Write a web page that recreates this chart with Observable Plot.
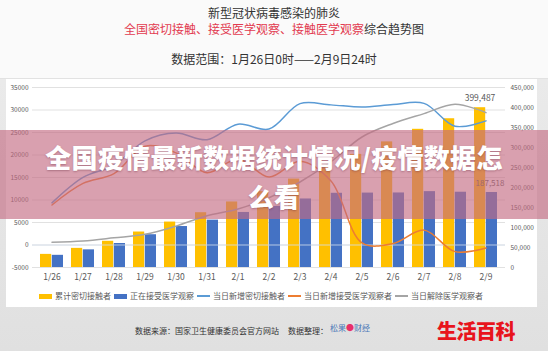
<!DOCTYPE html>
<html>
<head>
<meta charset="utf-8">
<script src="https://cdn.jsdelivr.net/npm/d3@7"></script>
<script src="https://cdn.jsdelivr.net/npm/@observablehq/plot@0.6"></script>
<style>
  html, body { margin:0; padding:0; }
  body { width:548px; height:351px; position:relative; overflow:hidden;
         background: linear-gradient(#ededed, #e0e0e0); font-family:"Noto Sans CJK SC", sans-serif; }
  .abs { position:absolute; }
  #header { left:0; top:0; width:548px; height:78px; background:#fafafa; border-bottom:1px solid #e2e2e2; }
  .hl { position:absolute; left:0; width:548px; text-align:center; font-size:12px; color:#333; line-height:14px; white-space:nowrap; }
  .red { color:#e23b50; }
  #panel { left:6px; top:79px; width:531px; height:228px; background:#fff; }
  #chart { left:0; top:79px; }
  #legend { left:39px; top:290px; display:flex; align-items:center; font-size:8px; color:#595959; white-space:nowrap; line-height:12px; }
  #legend .item { display:flex; align-items:center; margin-right:3px; }
  #legend .sw { width:13px; margin-right:3px; }
  #banner { left:0; top:130px; width:548px; height:89px; background:rgba(196,107,130,0.64); }
  .bt { left:0; width:548px; text-align:center; color:#fff; font-size:26px; font-weight:900; letter-spacing:0.3px;
        line-height:30px; height:30px; text-shadow:0 1px 2px rgba(90,30,50,0.35); white-space:nowrap; }
  #source { left:135px; top:325px; font-size:8px; color:#333; white-space:nowrap; line-height:12px; }
  #logo { left:330px; top:322px; font-size:8px; white-space:nowrap; line-height:12px; }
  #brand { left:437px; top:317px; font-size:20px; font-weight:900; color:#e8141c; white-space:nowrap; line-height:28px; letter-spacing:-0.5px; }
</style>
</head>
<body>
<div id="header" class="abs">
  <div class="hl" style="top:6px;">新型冠状病毒感染的肺炎</div>
  <div class="hl" style="top:22px;"><span class="red">全国密切接触、接受医学观察、接触医学观察</span>综合趋势图</div>
  <div class="hl" style="top:52px;">数据范围：1月26日0时——2月9日24时</div>
</div>
<div id="panel" class="abs"></div>
<div id="chart" class="abs"></div>
<div id="legend" class="abs"></div>
<div id="banner" class="abs"></div>
<div class="abs bt" style="top:142px;">全国疫情最新数据统计情况/疫情数据怎</div>
<div class="abs bt" style="top:181px;">么看</div>
<div id="source" class="abs">数据来源：国家卫生健康委员会官方网站&nbsp;&nbsp;&nbsp;&nbsp;&nbsp;数据整理：</div>
<div id="logo" class="abs"><span style="color:#4a78b8">松果</span><span style="color:#e8306a">●</span><span style="color:#4a78b8">财经</span></div>
<div id="brand" class="abs">生活百科</div>
<script>
// ---- data ----
const dates = ["1/26","1/27","1/28","1/29","1/30","1/31","2/1","2/2","2/3","2/4","2/5","2/6","2/7","2/8","2/9"];
const cumulativeContacts = [32799,47833,65537,88693,113579,136987,163844,189600,221015,252154,282813,314028,345498,371905,399487];
const underObservation   = [30453,44132,59990,81947,102427,118478,137594,152700,171329,185555,186045,186354,189660,188183,187518];
const dailyNewContacts   = [9368,15034,17704,23156,24886,23408,26857,25756,31415,31139,30659,31215,31470,26407,27582];
const dailyNewObserved   = [8897,13679,15858,21957,20480,16051,19116,15106,18629,14226,490,309,3306,-1477,-665];
const dailyReleased      = [600,914,1604,2364,4201,6509,8000,10500,14000,18500,24000,27000,29200,31300,29400];
const leftTicks  = [-5000,0,5000,10000,15000,20000,25000,30000,35000];
const rightTicks = [0,50000,100000,150000,200000,250000,300000,350000,400000,450000];
const seriesNames = ["累计密切接触者","正在接受医学观察","当日新增密切接触者","当日新增接受医学观察者","当日解除医学观察者"];
const seriesColors = ["#FFC000","#4472C4","#5B9BD5","#ED7D31","#A5A5A5"];
const seriesKinds = ["bar","bar","line","line","line"];

// right axis (bars) mapped onto left axis domain
const leftMin = leftTicks[0], leftMax = leftTicks[leftTicks.length-1];
const rightMax = rightTicks[rightTicks.length-1];
const toLeft = v => leftMin + v * (leftMax - leftMin) / rightMax;

const rows = dates.map((d, i) => ({
  date: d, cum: cumulativeContacts[i], obs: underObservation[i],
  newC: dailyNewContacts[i], newO: dailyNewObserved[i], rel: dailyReleased[i], last: i === dates.length - 1
}));
const lastRow = rows.filter(r => r.last);
const fmt = d3.format(",");

const chart = Plot.plot({
  width: 548, height: 210,
  marginTop: 8, marginBottom: 22, marginLeft: 32, marginRight: 43,
  style: { background: "transparent", fontFamily: "'Noto Sans CJK SC', sans-serif", overflow: "visible" },
  x: { type: "band", domain: dates, padding: 0, axis: null, label: null },
  y: { domain: [leftMin, leftMax], axis: null, label: null },
  marks: [
    Plot.gridY(leftTicks, { stroke: "#d9d9d9", strokeOpacity: 1, strokeWidth: 0.8 }),
    Plot.axisY(leftTicks, { anchor: "left", tickSize: 0, tickPadding: 4, tickFormat: d => String(d), fontSize: 6.5, fill: "#595959", label: null }),
    Plot.text(rightTicks, { y: toLeft, text: d => fmt(d), frameAnchor: "right", textAnchor: "start", dx: 5, fontSize: 6.5, fill: "#595959" }),
    Plot.barY(rows, { x: "date", y1: leftMin, y2: d => toLeft(d.cum), fill: seriesColors[0], insetLeft: 4, insetRight: 15.8 }),
    Plot.barY(rows, { x: "date", y1: leftMin, y2: d => toLeft(d.obs), fill: seriesColors[1], insetLeft: 15.8, insetRight: 4 }),
    Plot.ruleY([0], { stroke: "#d3deee", strokeWidth: 0.8 }),
    Plot.line(rows, { x: "date", y: "newC", stroke: seriesColors[2], strokeWidth: 1.5, curve: "catmull-rom" }),
    Plot.line(rows, { x: "date", y: "newO", stroke: seriesColors[3], strokeWidth: 1.5, curve: "catmull-rom" }),
    Plot.line(rows, { x: "date", y: "rel", stroke: seriesColors[4], strokeWidth: 1.5, curve: "catmull-rom" }),
    Plot.text(lastRow, { x: "date", y: d => toLeft(d.cum), text: d => fmt(d.cum), dx: -6, dy: -9, fontSize: 8.5, fill: "#595959" }),
    Plot.text(lastRow, { x: "date", y: d => toLeft(d.obs), text: d => fmt(d.obs), dx: 4, dy: -9, fontSize: 8, fill: "#595959" }),
    Plot.axisX({ tickSize: 0, tickPadding: 6, fontSize: 8.5, fill: "#595959", label: null })
  ]
});
document.getElementById("chart").appendChild(chart);

// legend
const legend = document.getElementById("legend");
seriesNames.forEach((name, i) => {
  const item = document.createElement("div");
  item.className = "item";
  const sw = document.createElement("span");
  sw.className = "sw";
  sw.style.background = seriesColors[i];
  sw.style.height = seriesKinds[i] === "bar" ? "5px" : "1.5px";
  const t = document.createElement("span");
  t.textContent = name;
  item.appendChild(sw); item.appendChild(t);
  legend.appendChild(item);
});
</script>
</body>
</html>
